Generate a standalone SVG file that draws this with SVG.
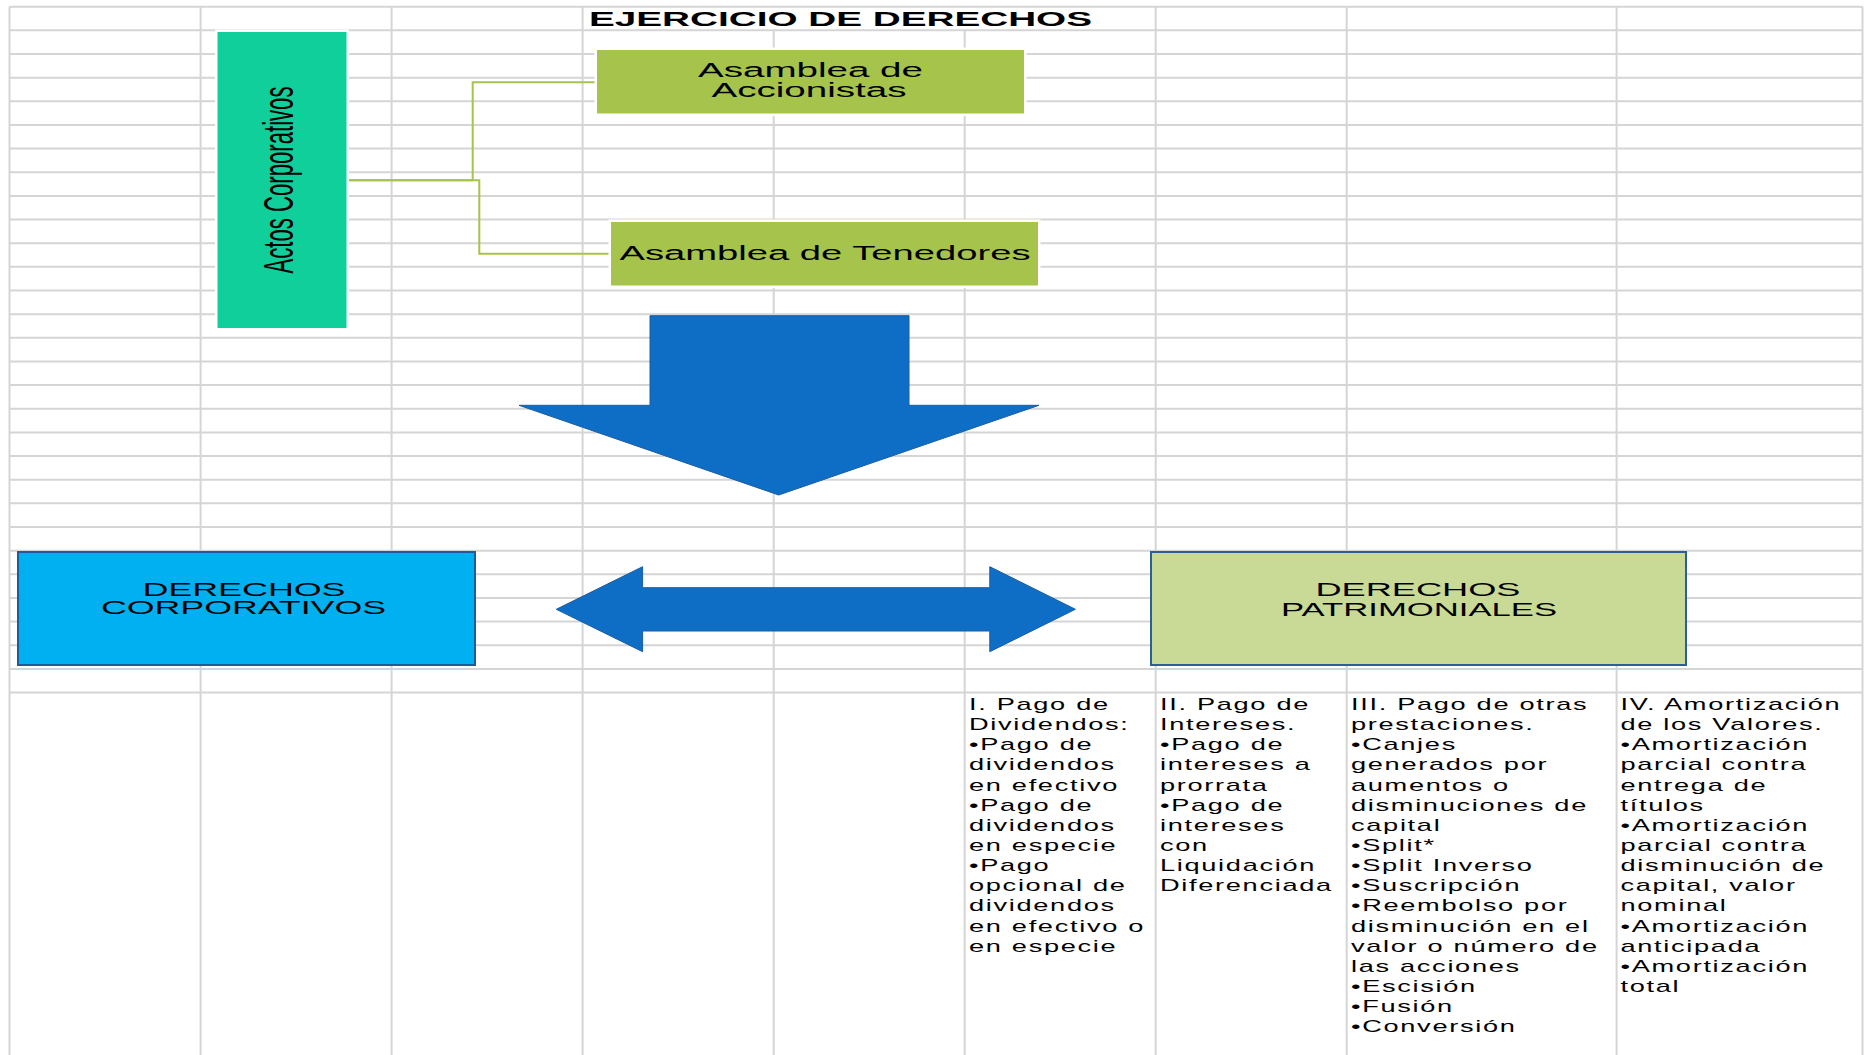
<svg xmlns="http://www.w3.org/2000/svg" width="1872" height="1055" viewBox="0 0 1872 1055">
<style>
.grid{stroke:#d5d5d5;stroke-width:2;fill:none}
.halo{fill:#ffffff}
.t{font-family:"Liberation Sans",Arial,sans-serif;fill:#000000}
.box-teal{fill:#11cf9b}
.box-olive{fill:#a6c34b}
.box-blue{fill:#00b0f0;stroke:#1f5c99;stroke-width:2}
.box-lgreen{fill:#c8da95;stroke:#2c5f94;stroke-width:2}
.arrow{fill:#0e6ec5;stroke:#1a5c9e;stroke-width:1}
.conn{stroke:#a6c34b;stroke-width:2;fill:none}
.body{font-size:17px;letter-spacing:1.05px}
</style>
<rect x="0" y="0" width="1872" height="1055" fill="#ffffff"/>
<g id="grid">
<path class="grid" d="M9.5,6.7H1862.5 M9.5,30.35H1862.5 M9.5,54H1862.5 M9.5,77.65H1862.5 M9.5,101.3H1862.5 M9.5,124.95H1862.5 M9.5,148.6H1862.5 M9.5,172.25H1862.5 M9.5,195.9H1862.5 M9.5,219.55H1862.5 M9.5,243.2H1862.5 M9.5,266.85H1862.5 M9.5,290.5H1862.5 M9.5,314.15H1862.5 M9.5,337.8H1862.5 M9.5,361.45H1862.5 M9.5,385.1H1862.5 M9.5,408.75H1862.5 M9.5,432.4H1862.5 M9.5,456.05H1862.5 M9.5,479.7H1862.5 M9.5,503.35H1862.5 M9.5,527H1862.5 M9.5,550.65H1862.5 M9.5,574.3H1862.5 M9.5,597.95H1862.5 M9.5,621.6H1862.5 M9.5,645.25H1862.5 M9.5,668.9H1862.5 M9.5,692.55H1862.5"/>
<path class="grid" d="M9.5,6.7V1055 M200.6,6.7V1055 M391.6,6.7V1055 M582.6,6.7V1055 M773.7,30.35V1055 M964.7,30.35V1055 M1155.7,6.7V1055 M1346.7,6.7V1055 M1616.6,6.7V1055 M1862.5,6.7V1055"/>
</g>
<g id="title">
<text class="t" x="589" y="26" font-size="20" font-weight="bold" textLength="503" lengthAdjust="spacingAndGlyphs">EJERCICIO DE DERECHOS</text>
</g>
<g id="connectors">
<path class="conn" d="M346,180.3H472.7V82.3H597"/>
<path class="conn" d="M346,180.3H479.3V253.8H611"/>
</g>
<g id="actos-corporativos">
<rect class="halo" x="215" y="29.5" width="134" height="301"/>
<rect class="box-teal" x="217.5" y="32" width="129" height="296"/>
<text class="t" transform="translate(293,273.5) rotate(-90) scale(0.515,1)" x="0" y="0" font-size="43">Actos Corporativos</text>
</g>
<g id="asamblea-accionistas">
<rect class="halo" x="594.5" y="47.5" width="432" height="68.5"/>
<rect class="box-olive" x="597" y="50" width="427" height="63.5"/>
<text class="t" x="698" y="77.3" font-size="20" textLength="225" lengthAdjust="spacingAndGlyphs">Asamblea de</text>
<text class="t" x="711.5" y="97.3" font-size="20" textLength="195" lengthAdjust="spacingAndGlyphs">Accionistas</text>
</g>
<g id="asamblea-tenedores">
<rect class="halo" x="608.5" y="219.5" width="432" height="68.5"/>
<rect class="box-olive" x="611" y="222" width="427" height="63.5"/>
<text class="t" x="619.5" y="260" font-size="20" textLength="411" lengthAdjust="spacingAndGlyphs">Asamblea de Tenedores</text>
</g>
<g id="flecha-abajo">
<polygon class="arrow" points="650,315.7 909,315.7 909,405.3 1039,405.3 778.7,495 519,405.3 650,405.3"/>
</g>
<g id="derechos-corporativos">
<rect class="box-blue" x="18" y="552" width="457" height="113"/>
<text class="t" x="142.5" y="596" font-size="18" textLength="203" lengthAdjust="spacingAndGlyphs">DERECHOS</text>
<text class="t" x="101" y="614" font-size="18" textLength="285" lengthAdjust="spacingAndGlyphs">CORPORATIVOS</text>
</g>
<g id="flecha-doble">
<polygon class="arrow" points="556.3,609.3 642.6,566.7 642.6,587.7 989.8,587.7 989.8,566.7 1075.4,609.3 989.8,651.7 989.8,631 642.6,631 642.6,651.7"/>
</g>
<g id="derechos-patrimoniales">
<rect class="box-lgreen" x="1151" y="552" width="535" height="113"/>
<text class="t" x="1315.5" y="596" font-size="18" textLength="205" lengthAdjust="spacingAndGlyphs">DERECHOS</text>
<text class="t" x="1281" y="616" font-size="18" textLength="276" lengthAdjust="spacingAndGlyphs">PATRIMONIALES</text>
</g>
<g id="col-dividendos" transform="translate(969,0) scale(1.6,1)">
<text class="t body">
<tspan x="0" y="710">I. Pago de</tspan>
<tspan x="0" y="730.15">Dividendos:</tspan>
<tspan x="0" y="750.3">•Pago de</tspan>
<tspan x="0" y="770.45">dividendos</tspan>
<tspan x="0" y="790.6">en efectivo</tspan>
<tspan x="0" y="810.75">•Pago de</tspan>
<tspan x="0" y="830.9">dividendos</tspan>
<tspan x="0" y="851.05">en especie</tspan>
<tspan x="0" y="871.2">•Pago</tspan>
<tspan x="0" y="891.35">opcional de</tspan>
<tspan x="0" y="911.5">dividendos</tspan>
<tspan x="0" y="931.65">en efectivo o</tspan>
<tspan x="0" y="951.8">en especie</tspan>
</text>
</g>
<g id="col-intereses" transform="translate(1160,0) scale(1.6,1)">
<text class="t body">
<tspan x="0" y="710">II. Pago de</tspan>
<tspan x="0" y="730.15">Intereses.</tspan>
<tspan x="0" y="750.3">•Pago de</tspan>
<tspan x="0" y="770.45">intereses a</tspan>
<tspan x="0" y="790.6">prorrata</tspan>
<tspan x="0" y="810.75">•Pago de</tspan>
<tspan x="0" y="830.9">intereses</tspan>
<tspan x="0" y="851.05">con</tspan>
<tspan x="0" y="871.2">Liquidación</tspan>
<tspan x="0" y="891.35">Diferenciada</tspan>
</text>
</g>
<g id="col-prestaciones" transform="translate(1351,0) scale(1.6,1)">
<text class="t body">
<tspan x="0" y="710">III. Pago de otras</tspan>
<tspan x="0" y="730.15">prestaciones.</tspan>
<tspan x="0" y="750.3">•Canjes</tspan>
<tspan x="0" y="770.45">generados por</tspan>
<tspan x="0" y="790.6">aumentos o</tspan>
<tspan x="0" y="810.75">disminuciones de</tspan>
<tspan x="0" y="830.9">capital</tspan>
<tspan x="0" y="851.05">•Split*</tspan>
<tspan x="0" y="871.2">•Split Inverso</tspan>
<tspan x="0" y="891.35">•Suscripción</tspan>
<tspan x="0" y="911.5">•Reembolso por</tspan>
<tspan x="0" y="931.65">disminución en el</tspan>
<tspan x="0" y="951.8">valor o número de</tspan>
<tspan x="0" y="971.95">las acciones</tspan>
<tspan x="0" y="992.1">•Escisión</tspan>
<tspan x="0" y="1012.25">•Fusión</tspan>
<tspan x="0" y="1032.4">•Conversión</tspan>
</text>
</g>
<g id="col-amortizacion" transform="translate(1620.5,0) scale(1.6,1)">
<text class="t body">
<tspan x="0" y="710">IV. Amortización</tspan>
<tspan x="0" y="730.15">de los Valores.</tspan>
<tspan x="0" y="750.3">•Amortización</tspan>
<tspan x="0" y="770.45">parcial contra</tspan>
<tspan x="0" y="790.6">entrega de</tspan>
<tspan x="0" y="810.75">títulos</tspan>
<tspan x="0" y="830.9">•Amortización</tspan>
<tspan x="0" y="851.05">parcial contra</tspan>
<tspan x="0" y="871.2">disminución de</tspan>
<tspan x="0" y="891.35">capital, valor</tspan>
<tspan x="0" y="911.5">nominal</tspan>
<tspan x="0" y="931.65">•Amortización</tspan>
<tspan x="0" y="951.8">anticipada</tspan>
<tspan x="0" y="971.95">•Amortización</tspan>
<tspan x="0" y="992.1">total</tspan>
</text>
</g>
</svg>
